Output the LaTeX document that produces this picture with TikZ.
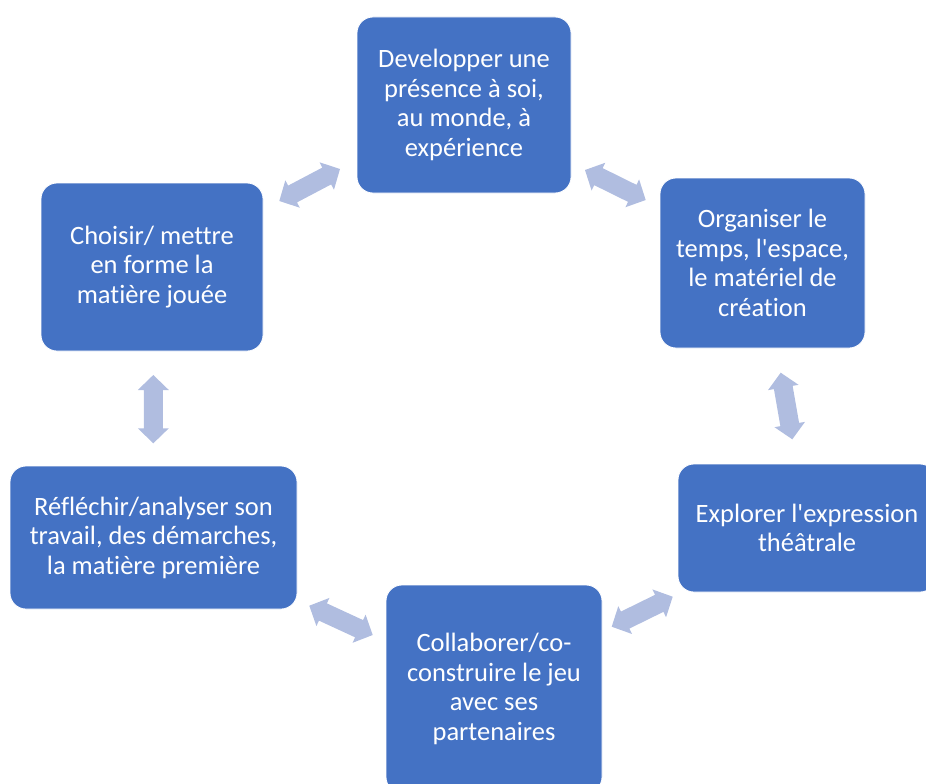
\documentclass[tikz,border=0pt]{standalone}
\usepackage{fontspec}
\setmainfont{Carlito}[Ligatures={TeXOff,NoCommon}, Contextuals=NoAlternate]
\usetikzlibrary{calc}
\definecolor{boxblue}{HTML}{4472C4}
\definecolor{arrowblue}{HTML}{B0BDE0}
\tikzset{
  cyclebox/.style={rectangle, rounded corners=16pt, fill=boxblue, draw=white, line width=0.8pt,
    text=white, align=center, inner sep=2pt,
    font=\fontsize{26.5}{29.5}\selectfont},
  arrowfill/.style={fill=arrowblue}
}
\newcommand\dblarrow[2]{%
 \fill[arrowfill] (#1)
  -- ($(#1)!15pt!(#2)!15.5pt!90:(#2)$)
  -- ($(#1)!15pt!(#2)!9.5pt!90:(#2)$)
  -- ($(#2)!15pt!(#1)!9.5pt!-90:(#1)$)
  -- ($(#2)!15pt!(#1)!15.5pt!-90:(#1)$)
  -- (#2)
  -- ($(#2)!15pt!(#1)!15.5pt!90:(#1)$)
  -- ($(#2)!15pt!(#1)!9.5pt!90:(#1)$)
  -- ($(#1)!15pt!(#2)!9.5pt!-90:(#2)$)
  -- ($(#1)!15pt!(#2)!15.5pt!-90:(#2)$)
  -- cycle;}
\begin{document}
\begin{tikzpicture}[x=1pt,y=-1pt]
\useasboundingbox (0,0) rectangle (926,784);
\clip (0,0) rectangle (926,784);
\node[cyclebox, minimum width=214pt, minimum height=176pt] (n1) at (464,105)
  {Developper une\\présence à soi,\\au monde, à\\expérience};
\node[cyclebox, minimum width=205pt, minimum height=170pt] (n2) at (762.5,263)
  {Organiser le\\temps, l'espace,\\le matériel de\\création};
\node[cyclebox, minimum width=258pt, minimum height=128pt] (n3) at (807,528)
  {Explorer l'expression\\théâtrale};
\node[cyclebox, minimum width=216pt, minimum height=208pt] (n4) at (494,689)
  {Collaborer/co-\\construire le jeu\\avec ses\\partenaires};
\node[cyclebox, minimum width=287pt, minimum height=143pt] (n5) at (153.5,537.5)
  {Réfléchir/analyser son\\travail, des démarches,\\la matière première};
\node[cyclebox, minimum width=222pt, minimum height=168pt] (n6) at (152,267)
  {Choisir/ mettre\\en forme la\\matière jouée};
% arrow end points
\coordinate (a61) at (279.3,201);
\coordinate (a16) at (340,169);
\coordinate (a12) at (585,170);
\coordinate (a21) at (645.7,200);
\coordinate (a23) at (780.7,372.7);
\coordinate (a32) at (792.3,439.3);
\coordinate (a34) at (672.7,596.7);
\coordinate (a43) at (611.7,626.7);
\coordinate (a45) at (372.7,635);
\coordinate (a54) at (309.3,605.7);
\coordinate (a56) at (153.3,443.3);
\coordinate (a65) at (153.3,375);
\dblarrow{a61}{a16}
\dblarrow{a12}{a21}
\dblarrow{a23}{a32}
\dblarrow{a43}{a34}
\dblarrow{a54}{a45}
\dblarrow{a65}{a56}
\end{tikzpicture}
\end{document}
